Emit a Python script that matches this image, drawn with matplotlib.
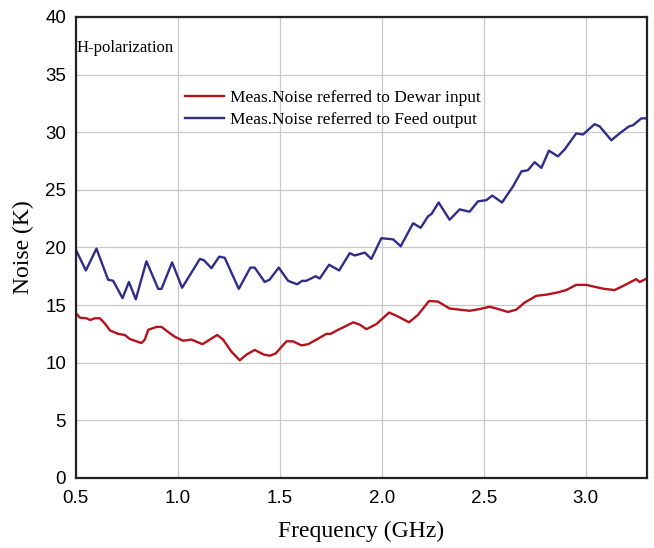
import matplotlib
matplotlib.use("Agg")
import matplotlib.pyplot as plt

# Values
freq_dewar = [0.50, 0.52, 0.552, 0.57, 0.593, 0.618, 0.642, 0.667, 0.707, 0.740, 0.765, 0.797,
              0.822, 0.838, 0.855, 0.895, 0.92, 0.961, 0.985, 1.026, 1.067, 1.121, 1.157, 1.193,
              1.222, 1.263, 1.304, 1.337, 1.377, 1.422, 1.451, 1.480, 1.533, 1.565, 1.606, 1.639,
              1.680, 1.729, 1.75, 1.786, 1.827, 1.86, 1.892, 1.925, 1.974, 2.036, 2.08, 2.134,
              2.178, 2.232, 2.276, 2.333, 2.382, 2.431, 2.48, 2.529, 2.562, 2.619, 2.66, 2.70,
              2.758, 2.807, 2.864, 2.905, 2.954, 3.003, 3.052, 3.093, 3.142, 3.183, 3.248, 3.265,
              3.30]
noise_dewar = [14.3, 13.9, 13.85, 13.7, 13.85, 13.85, 13.4, 12.8, 12.5, 12.4, 12.05, 11.85,
               11.7, 12.0, 12.85, 13.1, 13.1, 12.55, 12.25, 11.9, 12.0, 11.6, 12.0, 12.4,
               12.0, 10.95, 10.2, 10.7, 11.1, 10.7, 10.6, 10.8, 11.85, 11.85, 11.5, 11.6,
               12.0, 12.5, 12.5, 12.85, 13.2, 13.5, 13.3, 12.9, 13.35, 14.35, 14.0, 13.5,
               14.15, 15.35, 15.3, 14.7, 14.6, 14.5, 14.65, 14.85, 14.7, 14.4, 14.6, 15.2,
               15.8, 15.9, 16.1, 16.3, 16.75, 16.75, 16.55, 16.4, 16.3, 16.65, 17.25, 17.0,
               17.3]

freq_feed = [0.50, 0.549, 0.601, 0.658, 0.683, 0.729, 0.760, 0.794, 0.846, 0.904, 0.92, 0.972,
             1.021, 1.108, 1.127, 1.165, 1.203, 1.230, 1.299, 1.356, 1.377, 1.426, 1.45, 1.495,
             1.541, 1.585, 1.61, 1.63, 1.676, 1.696, 1.742, 1.791, 1.843, 1.868, 1.917, 1.949,
             1.998, 2.056, 2.093, 2.154, 2.191, 2.227, 2.244, 2.279, 2.333, 2.382, 2.431, 2.472,
             2.513, 2.542, 2.590, 2.644, 2.685, 2.717, 2.75, 2.783, 2.820, 2.864, 2.897, 2.954,
             2.987, 3.044, 3.069, 3.126, 3.167, 3.212, 3.232, 3.273, 3.30]
noise_feed = [19.8, 18.0, 19.9, 17.2, 17.1, 15.6, 17.0, 15.5, 18.8, 16.4, 16.4, 18.7,
              16.5, 19.0, 18.9, 18.2, 19.2, 19.1, 16.4, 18.25, 18.25, 17.0, 17.2, 18.25,
              17.1, 16.8, 17.1, 17.1, 17.5, 17.3, 18.5, 18.0, 19.5, 19.3, 19.55, 19.0,
              20.8, 20.7, 20.1, 22.1, 21.7, 22.7, 22.9, 23.9, 22.4, 23.3, 23.1, 24.0,
              24.1, 24.5, 23.9, 25.3, 26.6, 26.7, 27.4, 26.9, 28.4, 27.9, 28.5, 29.9,
              29.8, 30.7, 30.5, 29.3, 29.9, 30.5, 30.6, 31.2, 31.2]

x_ticks = [0.5, 1.0, 1.5, 2.0, 2.5, 3.0]
y_ticks = [0, 5, 10, 15, 20, 25, 30, 35, 40]

serif = ["Liberation Serif", "DejaVu Serif"]
sans = ["Liberation Sans", "DejaVu Sans"]

fig = plt.figure(figsize=(6.54, 5.48), dpi=100)
ax = fig.add_axes([0.116, 0.128, 0.873, 0.841])

ax.plot(freq_dewar, noise_dewar, color="#B5121B", linewidth=1.7,
        solid_joinstyle="round", label="Meas.Noise referred to Dewar input")
ax.plot(freq_feed, noise_feed, color="#2E2E8A", linewidth=1.7,
        solid_joinstyle="round", label="Meas.Noise referred to Feed output")

ax.set_xlim(0.5, 3.3)
ax.set_ylim(0, 40)
ax.set_xticks(x_ticks)
ax.set_yticks(y_ticks)
ax.set_xticklabels([f"{v:.1f}" for v in x_ticks], family=sans, fontsize=13.5)
ax.set_yticklabels([str(v) for v in y_ticks], family=sans, fontsize=13.5)
ax.tick_params(axis="x", length=0, pad=9)
ax.tick_params(axis="y", length=0, pad=7)
ax.grid(True, color="#c8c8c8", linewidth=0.9)
ax.set_axisbelow(True)
for side in ["left", "bottom", "right", "top"]:
    ax.spines[side].set_linewidth(1.6)
    ax.spines[side].set_color("#222222")

ax.set_xlabel("Frequency (GHz)", family=serif, fontsize=17, labelpad=10)
ax.set_ylabel("Noise (K)", family=serif, fontsize=17, labelpad=8)

ax.text(0.002, 0.933, "H-polarization", transform=ax.transAxes, family=serif,
        fontsize=12, va="center", ha="left")

leg = ax.legend(loc="upper left", bbox_to_anchor=(0.163, 0.875), frameon=False,
                prop={"family": serif, "size": 12.5}, handlelength=2.3,
                handletextpad=0.3, labelspacing=0.3)

fig.savefig("out.png", dpi=100)
